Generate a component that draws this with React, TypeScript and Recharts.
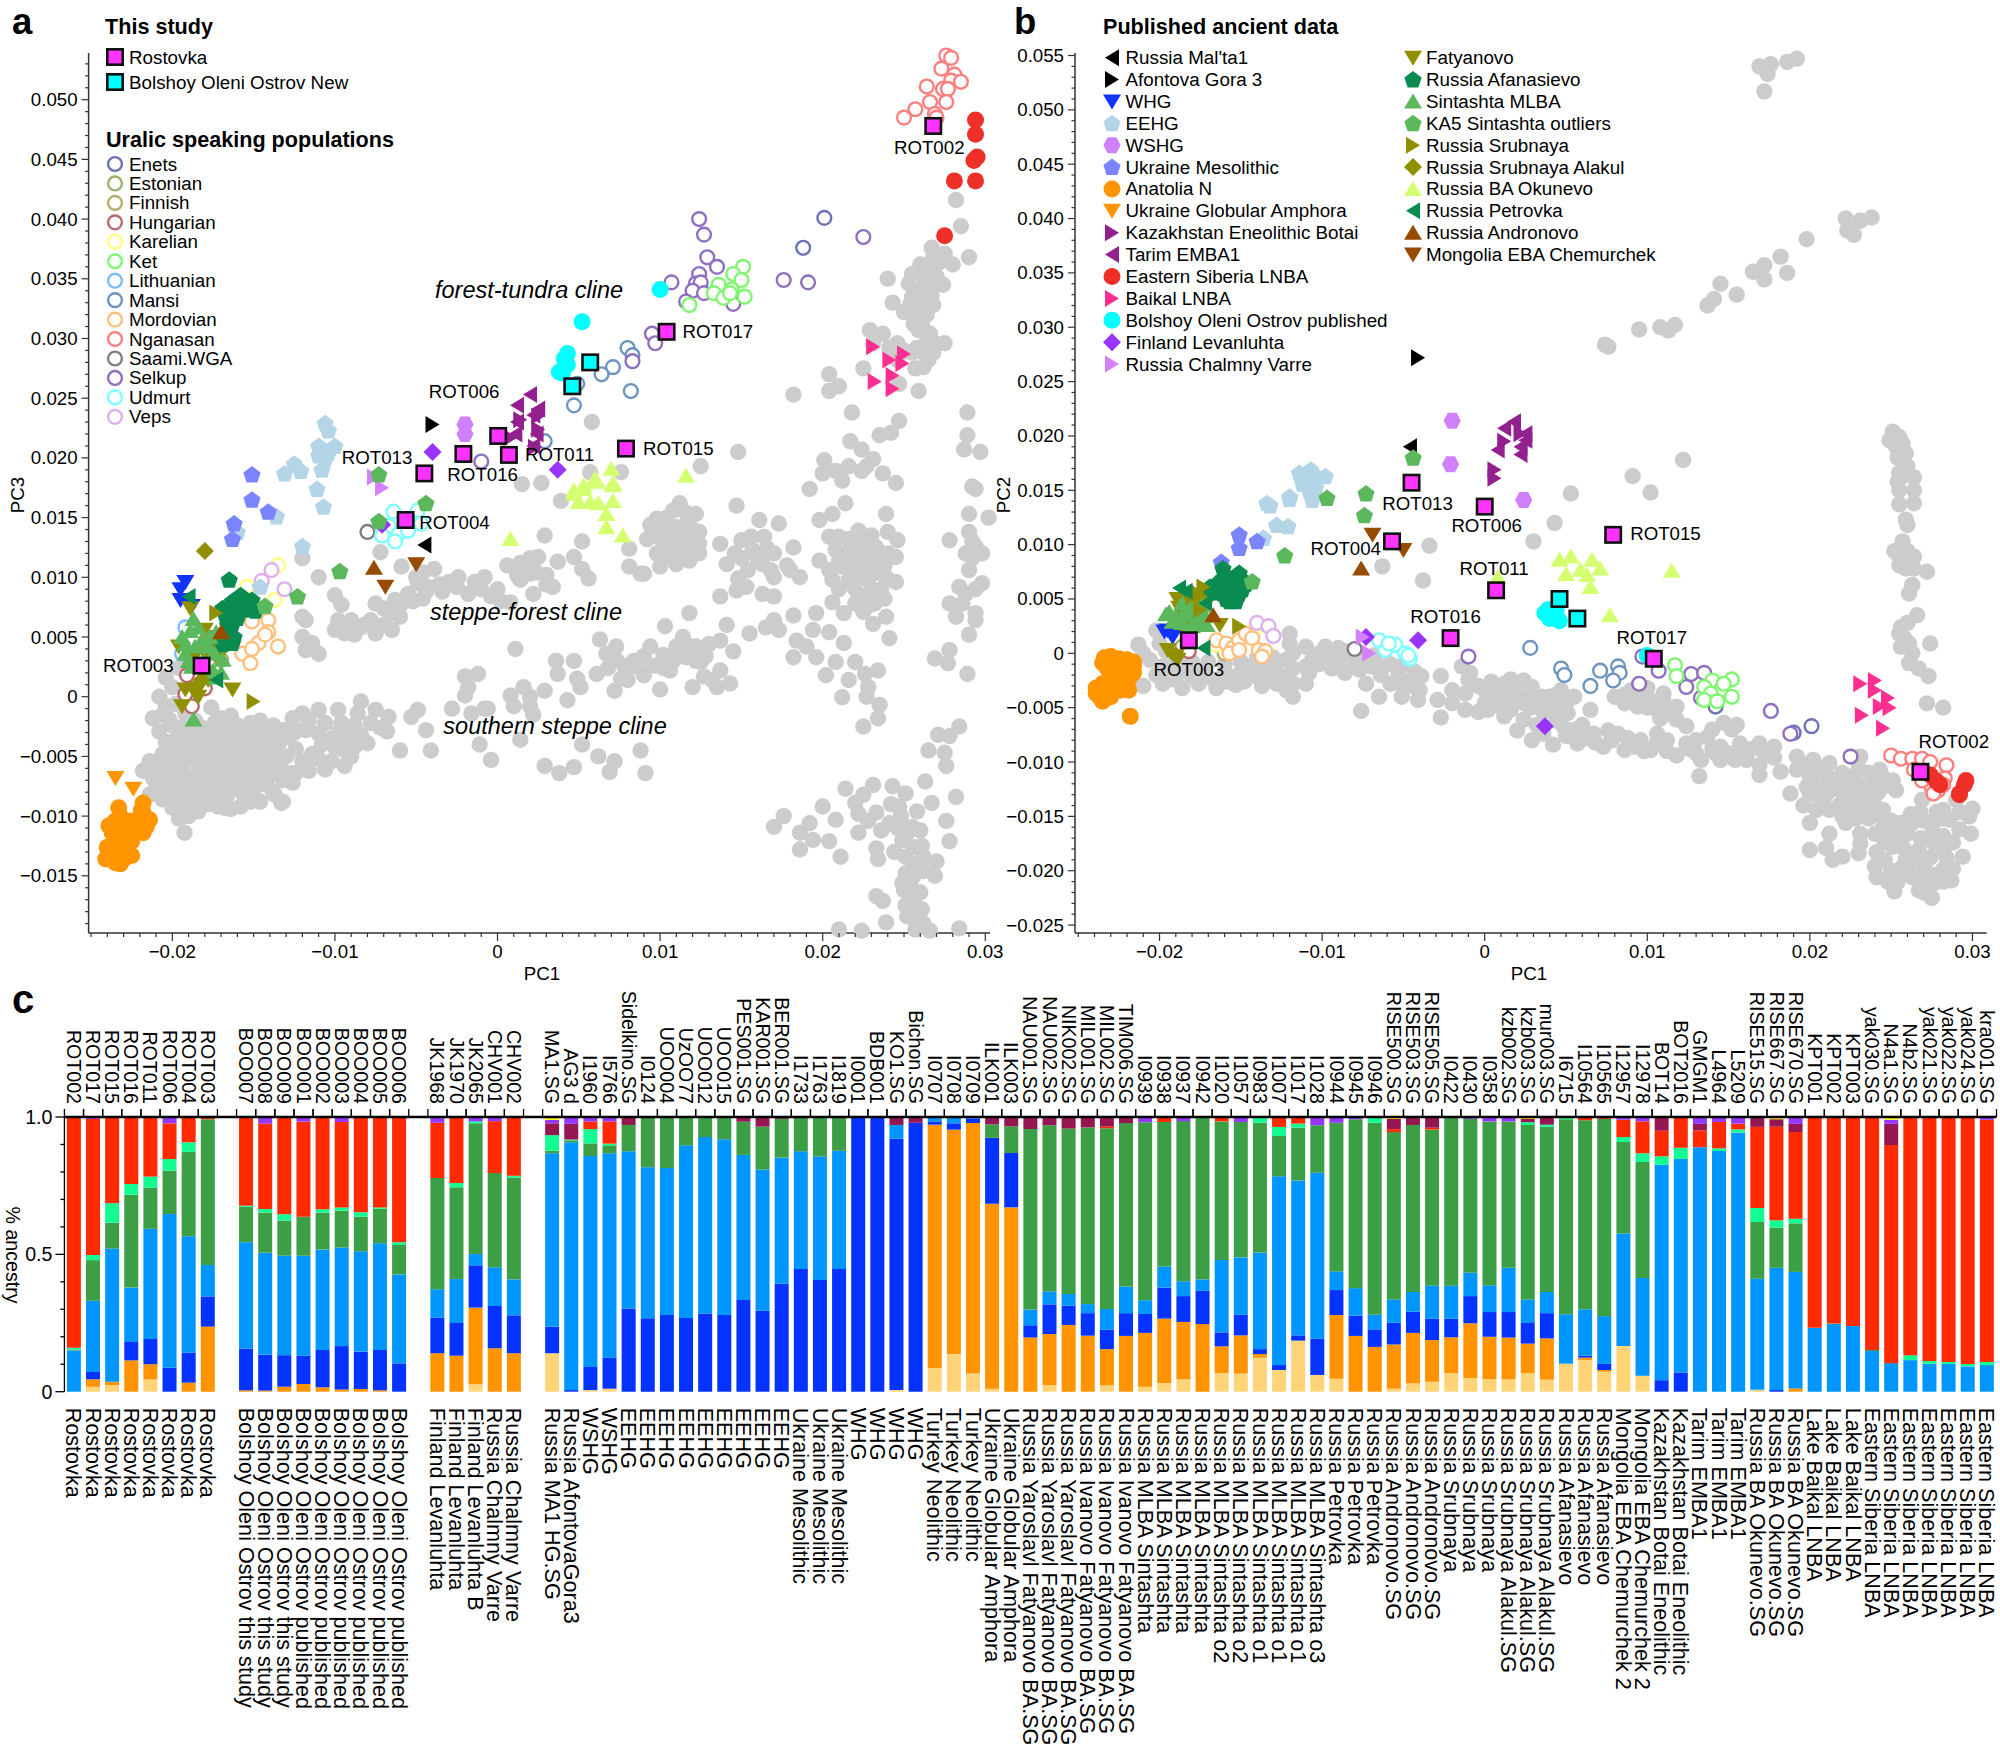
import { BarChart, Bar, ScatterChart, Scatter, XAxis, YAxis } from "recharts"

// scatter values are in thousandths of a PC unit: [PC1, PC3 or PC2]
type Pt = [number, number]
const FONT = "'Liberation Sans', Arial, sans-serif"

// ---- panel a: PC1 / PC3 ----
const grayA: Pt[] = [
  [-20.8,0],[-21.2,-1.8],[-20.6,-1.5],[-20,-2.4],[-20.8,-2.9],[-19.8,-0.6],[-19.2,-1.4],[-18.6,-2],[-17.6,-0.9],[-17,-1.8],[-16.4,-1.6],[-16,-2.4],[-15.2,-2.2],[-14.6,-2],[-13.8,-2.4],[-13.2,-2.8],[-14,-3],[-15,-3],[-16.2,-3.2],[-17,-3],[-17.8,-3],[-18.8,-3.2],[-19.8,-3.6],[-20.4,-3.8],[-19.6,-4.6],[-18.8,-4.6],[-18,-4.2],[-17,-4.2],[-16,-4.4],[-15,-4],[-14.2,-4.2],[-13.4,-3.8],[-12.8,-3.4],[-12.4,-4.4],[-13,-5],[-14,-5.2],[-15,-5.2],[-15.8,-5.4],[-16.8,-5.2],[-17.8,-5.4],[-18.4,-5.6],[-19.4,-5.8],[-20,-5.4],[-21.4,-5.4],[-21.8,-6.2],[-21,-6.4],[-20,-6.6],[-19,-6.8],[-18,-6.4],[-17,-6.4],[-16,-6.2],[-15,-6.2],[-14.4,-6],[-13.4,-6.2],[-12.4,-6.4],[-11.6,-6.2],[-14.8,-7],[-16,-7.2],[-17,-7.4],[-18,-7.6],[-19,-7.8],[-20,-7.8],[-21,-7.4],[-21.4,-8.2],[-20.6,-8.6],[-19.6,-8.8],[-18.6,-8.6],[-17.6,-8.4],[-16.6,-8.2],[-15.6,-8.2],[-15,-7.8],[-13.8,-8],[-13.2,-8.8],[-14.6,-8.8],[-15.8,-9.2],[-16.4,-9.4],[-17.2,-9.2],[-18.4,-9.6],[-19,-10],[-19.6,-10.2],[-19.25,-11.4],
  [-20.4,1.6],[-20,0.8],[-19.2,0.4],[-19.6,2.4],
  [-12,-1.4],[-11,-1.1],[-9.8,-1.1],[-8.4,-0.4],[-7.5,-1.1],[-4.9,-1.1],[-6.7,-1.7],[-5.3,-1.7],[-2.8,-1],[-1.6,-1.4],[-0.8,-1],[-4.4,-2.8],[-6.8,-2.9],[-8,-3.9],[-9.2,-3.6],[-10.2,-3.5],[-9.4,-4.5],[-11,-3.1],[-11.8,-2.8],[-12.5,-3],[-4.1,-4.5],[-6,-4.5],[-9,-5],[-9.4,-5.8],[-10.6,-6.1],[-11.8,-6.1],[-12.7,-6.4],[-13.7,-8.2],[-13.3,-8.9],[-15.5,-8.8],[-16.8,-9.3],
  [1.6,0.8],[0.8,0.1],[2,0],[1,-0.8],[2.2,-1.5],[2,-0.8],[2.9,0.5],[4.3,-0.3],[-0.6,-1],[-1.1,-4],[1.4,-3.6],[-0.4,-5.3],[2.9,-5.8],[3.8,-6.4],[4.7,-5.9],[5.2,-4],[6.2,-5],[7.2,-5.4],[6.9,-6.3],[8.8,-4.5],[9.1,-6.4],
  [-2,1.7],[-1.2,1.9],[-1.8,0.8],[-2,0.1],
  [1.1,4],[3.6,3],[4.7,3],[3.7,1.9],[4.9,1.5],[6.1,1.9],[5.1,0.8],[7.2,0.5],[7.6,1.5],[10,0.6],[8.6,2.5],[9.6,2.6],[10.6,2.2],[12,0.8],[12.7,1.7],[13.5,0.8],[14.3,1.1],[13.7,2.2],[12.5,2.9],[11.6,3.3],[10.2,3.5],[9.4,4.2],[11.4,5],[12.2,4.2],[13.7,4.7],[14.1,6],[14.5,3.8],[15.5,5.3],[16.5,5.8],[17,6.4],[17.3,5.6],[18.2,6.8],[10.3,5.9],[11.8,7],[6.3,4.8],[7.3,4.2],[6.7,3.6],[7.3,3.1],
  [18.4,4.7],[19,4.2],[19.4,5.6],[18.2,3.3],[19.6,3.3],[20.8,2.9],[22,2.9],[20.2,1.8],[21.6,1.4],[22.6,1.9],[23.4,2.2],[22.8,0.8],[21.2,-0.05],[22.7,0],[23.5,-0.7],[23.4,-1.8],[22.5,-2.5],[21.3,4.5],[20.4,5.4],[24.1,4.9],[23.9,6.7],[23.1,6.1],[22.5,7.1],[21.3,7],[20.6,7.9],[19.6,7],
  [9.8,14.9],[11.2,16.2],[12.2,15.3],[9.4,13.4],[10.6,14.2],[11.6,14.5],[10.2,12.8],[12.4,12.8],[11.2,12.3],[11.8,13.5],[11,11.1],[10,10.9],[9.2,13.2],[10.8,13.4],[10.4,15],[11.6,12.1],[9,10.3],[8.1,10.9],[8.8,10.3],
  [14.7,16],[16.1,14.8],[17.3,14.5],[15,13.1],[13.7,12.8],[14.1,11.1],[15.7,12.3],[16.3,11.1],[18.2,12.5],[17,10],[18.6,10],[15.3,9.2],[14.7,8.9],[13.7,8.4],[16.3,8.6],[17,8.4],[18,10.6],
  [19.8,14.8],[20.6,15.3],[21.4,16.2],[23.9,15.3],[22.2,13.9],[24.6,13.1],[20.8,12.3],[22,12.5],[22.8,12.3],[21.2,10.9],[22.4,11.1],[23.5,11.4],[24.5,11.7],[20.4,10.6],[21.6,9.8],[22.8,9.8],[23.9,10],[24.5,9.6],[22.4,8.4],[23.2,7.8],[19.8,11.4],[22.4,10.6],[23,10.7],[23.3,12.5],
  [29.4,17.4],[29,15.3],[30.2,15],[27.8,13.1],[29.2,11.6],[29,10.6],[29.8,9.5],[28.8,8.6],[27.8,7.8],[28.2,6.7],[29.4,6.4],[29,5.2],[27.8,3.9],[26.9,3.2],[27.7,2.8],[28.9,1.9],[29.4,7],
  [-12,5],[-11,3.6],[-11.4,4.5],[-11.8,3.9],[-10,5.6],[-9.4,5.3],[-9,6.4],[-8.4,5.8],[-7.8,6.4],[-7.5,5.3],[-6.5,5.6],[-6,6.7],[-10,8.5],[-9.6,7.7],[-12,6.7],[-11.8,6.4],[-11,10],[-7.5,7.8],[-6.3,8.1],[-5.5,8.6],[-4.9,9.5],[-5.9,10.9],[-3.9,10.7],[-4.3,9.2],[-2.5,9.2],[-1.8,8.6],[-0.8,10],[-2.4,10],[-0.4,8.4],[0.8,7.9],[0.6,11],[1.6,10.9],[2.5,11.7],[2,10.3],[1.4,9.8],[2.2,8.6],[3.4,9.2],[2.9,13.5],[5.2,13],[3.7,11.3],[4.7,11.7],[5.6,9.9],[5.2,10.7],[3.9,16.4],[8.1,12.4],[-7.2,12.1],[-12,11.6],
  [28.2,41.6],[28.5,39.4],[26.7,37.6],[27.5,37.1],[29,36.8],[28,36.2],[26,36.2],[25.5,35.4],[24,35],[27,35.2],[27.4,34.5],[26.3,34.9],[25.3,34.6],[25.5,33.5],[24.3,33],[26.7,33.6],[26.1,32.8],[25,32.2],[26.1,31.4],[25.9,30.7],[22.9,30.7],[23.7,30.4],[23.1,29.6],[24.1,29.2],[27.5,29.6],[26.3,29.5],[25.5,28.8],[26.5,28.2],[25.7,27.5],[20.4,27],[22.5,27.5],[21,26],[20.4,25.6],[18.2,25.3],[24.7,26.2],[25.9,25.6],[21.8,23.8],[28.9,23.8],[24.7,23.1],[24.2,22.1],[28.9,21.9],[23.5,21.9],[21.7,21.4],[23.1,19.9],[22.4,20.7],[28.7,20.7],[29.7,20.5],[20.1,19.8],[21.6,19.3],[20.8,18.9],[22.7,19.3],[20,18.7],[23.7,18.7],[24.5,17.9],[19.2,17.4],[22.4,18.9],[21.2,18.1],[29.2,17.6],
  [5.8,23],[14.8,20.5],[12.5,19.3],[7.6,18.8],[2.7,17.9],[1.5,17.8],[5.7,18.8],
  [17,-10.9],[17.6,-10],[18.6,-11.4],[18.6,-12.8],[19.4,-12],[20,-9.2],[19.2,-10.6],[20.4,-12.1],[21.1,-13.4],[21.4,-7.7],[20.8,-10.3],[22,-8.9],[22.5,-8.2],[23.1,-7.4],[24.3,-7.5],[25.1,-8.1],[22.2,-11.4],[23.3,-9.7],[24.7,-9.2],[24.1,-10.6],[25.5,-10.9],[23.3,-12.7],[23.4,-13.6],[24.9,-12],[26.1,-12.5],[25.1,-13.4],[27,-13.8],[26.9,-15],[25.1,-14.8],[27.8,-12.1],[27.6,-10.4],[26.7,-8.9],[28.2,-8.4],[26.3,-7.1],[24.9,-15.6],[25.5,-16.4],[23.3,-16.7],[23.7,-17.1],[25.1,-17.5],[26.1,-17.8],[23.9,-18.9],[25.7,-18.7],[28.4,-19.4],[26.6,-19.6],[22.4,-19.6],[21,-19.5],[25.7,-19.5],
  [28.4,-2.5],[27.1,-3.2],[27.8,-3.3],[26.5,-4.5],[27.5,-4.7],[27.6,-5.8],
]
// estimated positions inside the solid grey clouds
const grayDenseA: Pt[] = [
  [-20.4,-0.8],[-20.2,-1.9],[-19.4,-2.6],[-18.2,-2.6],[-17.4,-2.2],[-16.6,-2.6],[-15.6,-2.8],[-14.6,-2.6],[-13.6,-3.4],[-14.6,-3.6],[-15.6,-3.7],[-16.6,-3.7],[-17.4,-3.6],[-18.4,-3.8],[-19.2,-4],[-20,-4.2],[-20.6,-4.8],[-19.8,-5],[-19,-5.2],[-18.2,-5],[-17.4,-4.8],[-16.4,-4.8],[-15.4,-4.6],[-14.6,-4.6],[-13.6,-4.6],[-13.4,-5.6],[-14.4,-5.6],[-15.4,-5.8],[-16.4,-5.8],[-17.4,-5.8],[-18.4,-6.2],[-19.6,-6.2],[-20.6,-5.8],[-21.2,-6.8],[-20.4,-7.2],[-19.4,-7.2],[-18.4,-7],[-17.4,-6.9],[-16.4,-6.8],[-15.4,-6.8],[-14,-6.6],[-13.2,-7],[-12.6,-7.2],[-14.2,-7.4],[-15.4,-7.6],[-16.4,-7.8],[-17.4,-7.9],[-18.4,-8.1],[-19.4,-8.2],[-20.2,-8.2],[-20,-9.3],[-18.8,-9.1],[-17.8,-9],[-16.8,-8.8],[-15.2,-8.8],[-19.6,-9.6],
  [-12.6,-1.8],[-11.6,-2],[-10.6,-2.2],[-9.6,-2.2],[-8.8,-2.4],[-7.8,-2.2],[-8.6,-1.4],[-7.2,-2.6],[-9.8,-3],[-9,-2.9],[-8.4,-3.2],[-8.8,-4.2],[-10,-4.2],[-10.8,-4],[-11.4,-4.8],[-12,-5.4],[-11,-5.2],[-10.2,-5.4],[-12.6,-2.4],
  [-9.8,6.4],[-9.4,5.9],[-8.8,5.2],[-8.2,6],[-7,6],[-7,7.4],[-6.6,7],[-6,7.6],[-5.2,8],[-4.6,8.2],[-4.4,8.8],[-3.4,8.8],[-3,9.6],[-5,10],[-4.6,10.4],[-3.6,9.4],[-1,9],[-1.4,9.6],[0.2,8],[0,9],[1.2,10.2],[1.4,11.2],[2,11.6],[2.4,10.4],[3,10.2],[3,9.4],
  [8,1.4],[8.4,3],[9,1.8],[9,3.4],[10.2,2.4],[10.8,3],[11,4.2],[11.6,4.4],[12.2,3],[12.8,3.4],[13,4.4],[13.2,1.4],[6.8,2.4],[7.8,2.6],
  [10.2,14],[10.6,13],[11,14.2],[11,13.2],[11.4,13],[11.6,13.9],[10.6,11.8],[11,12],[10.2,11.6],[9.8,12],[9.8,13.6],[12,14],[12.4,13.8],[12.4,12],[11.8,11.4],[11.6,15.4],[10.8,15.6],[9.4,14.4],[12,12.6],[10.4,12.4],
  [21,11.4],[21.4,12],[21.6,11],[22,11.6],[21.8,10.4],[22.2,10],[22.8,10.4],[23,11.2],[23.4,10.4],[23.8,11],[24,12],[22.6,13],[23,13.5],[21.6,13.2],[21,13.4],[20.4,13.4],[20.6,9.8],[21,9],[22,9],[23,9],[23.6,9],[22.8,7.6],[22,7.8],[23.8,8.2],[24,13.8],
  [15.6,13.4],[16.4,13.4],[16.6,12.4],[17,12],[16,11.6],[15,11.6],[14.6,12],[15.4,10.6],[16.8,10.6],[14.8,9.9],[17.8,11],
  [29,13.8],[29.2,13],[29.4,12.6],[28.4,9.2],[28.6,7.8],[28.8,12],[29.4,9],[29.8,12],
  [26.6,36.2],[26.8,36.8],[26.4,35.4],[26.8,34.8],[26.2,34.2],[25.8,33.8],[26.8,32.8],[25.4,32.9],[25.6,32.2],[26.4,32],[26.2,30.7],[25.6,31.2],[26.6,30.4],[26.9,29.6],[25.8,29.2],[26.8,28.8],[26.2,27.6],[26.2,28.8],[25,29],[24.6,28.2],[24.6,29.6],[27.2,36.4],
  [24.8,-10],[25.8,-9.6],[24.2,-9],[25.2,-11.4],[26,-11.2],[26.2,-13.4],[25.6,-14],[25.6,-15],[26.2,-14.6],[25,-16.2],[25.4,-15.6],[26,-16.4],[25.6,-17.2],[25.2,-18.4],[25.6,-18],[26.2,-19],[24.6,-11],[23.6,-11.2],[22.8,-10.4],[22.2,-9.8],[25.6,-12.6],[24.4,-13],
]
const rostovkaA: Pt[] = [[26.8,47.8],[10.4,30.56],[0.04,21.84],[-2.1,20.33],[0.7,20.25],[7.9,20.78],[-4.5,18.7],[-5.65,14.8],[-18.2,2.6]]
const bolshoyNewA: Pt[] = [[5.7,28],[4.6,26]]
const enetsA: Pt[] = [[20.1,40.1],[18.8,37.6]]
const estonianA: Pt[] = [[-17.6,4.6],[-18.4,3.4]]
const finnishA: Pt[] = [[-17.8,3.8],[-17,3.1]]
const hungarianA: Pt[] = [[-19.1,1.8],[-18,0.7],[-19,0],[-18.8,-0.8],[-19.2,0.2]]
const karelianA: Pt[] = [[-15.4,9.2],[-13.5,11],[-13.7,8.1]]
const ketA: Pt[] = [[15.1,36],[14.5,35.4],[15,34.9],[13.6,34.5],[14.4,34.1],[13.3,33.8],[13.9,33.4],[15.2,33.5],[11.8,32.8],[14.3,33.8]]
const lithuanianA: Pt[] = [[-19.2,5.8],[-19.4,3.6]]
const mansiA: Pt[] = [[8,29.2],[8.3,28.6],[7.1,27.6],[6.4,27],[8.2,25.6],[4.7,24.4],[4.9,26.2],[2.9,21.4]]
const mordovianA: Pt[] = [[-14.1,6.4],[-14.1,5.4],[-15.1,6.3],[-14.7,4.5],[-13.5,4.2],[-15.7,3.6],[-15.1,4],[-15.2,2.8],[-14.3,5.2]]
const nganasanA: Pt[] = [[27.6,53.7],[27.9,53.5],[27.3,52.6],[28.1,52.1],[27.9,51.6],[28.5,51.5],[26.4,51.1],[27.4,50.9],[27.7,50.9],[26.6,49.8],[27.6,49.8],[25.7,49.2],[25,48.5],[26.9,48.8],[27,48.5]]
const saamiA: Pt[] = [[-8,13.8]]
const selkupA: Pt[] = [[12.4,40],[12.7,38.7],[17.6,34.9],[19.1,34.7],[22.5,38.5],[12.9,36.8],[12.4,35.4],[13.5,36],[10.7,34.7],[12.2,34.6],[12.5,34.7],[12,34],[12.7,33.8],[11.6,33.1],[14.5,32.9],[9.5,30.4],[9.7,29.6],[8.3,28.1],[-1,19.7]]
const udmurtA: Pt[] = [[-6.4,15.5],[-6.7,14.3],[-6.1,13.6],[-6.3,13],[-5.5,13.9],[-4.9,15.6],[-4.7,14.5],[-7.1,13.5]]
const vepsA: Pt[] = [[-13.9,10.6],[-13.1,9],[-14.5,9.7]]
const maltaA: Pt[] = [[-4.5,12.7]]
const afontovaA: Pt[] = [[-4,22.8]]
const whgA: Pt[] = [[-19.2,9.6],[-19.5,9],[-19.5,8.1],[-18.8,7.6]]
const eehgA: Pt[] = [[-10.6,22.9],[-10.4,22.3],[-11,21],[-10,21],[-10.6,19.9],[-10.8,19],[-12.5,19.5],[-13.1,18.7],[-12.1,18.9],[-11.1,17.4],[-10.7,15.9],[-13.6,15.1],[-16,13.8],[-12,12.6],[-14.6,9.2],[-10.4,20.4],[-11,20.2]]
const wshgA: Pt[] = [[-2,22.8],[-2,22]]
const ukraineMesoA: Pt[] = [[-15.1,18.6],[-15.1,16.5],[-14.1,15.5],[-16.2,14.5],[-16.3,13.2]]
const anatoliaA: Pt[] = [[-21.8,-8.9],[-23.3,-9.3],[-21.8,-9.7],[-23.5,-10.4],[-22.5,-10.4],[-21.4,-10.3],[-23.7,-11.4],[-21.8,-11.4],[-22.5,-12.1],[-23.7,-12.5],[-23.1,-13],[-24.1,-13.6],[-23.5,-13.9],[-22.9,-13.5],[-23.9,-13.1],[-21.6,-10.9],[-23.1,-11.4],[-23.2,-10],[-22.6,-11],[-22.9,-12],[-23.3,-12.2],[-22.8,-12.8],[-23.2,-14],[-23.8,-13.6],[-22.5,-13.3],[-24,-12.6],[-23.9,-10.8],[-22,-11],[-21.9,-9.5],[-22.3,-11.5],[-22.9,-11]]
const globularA: Pt[] = [[-23.5,-6.8],[-22.4,-7.7]]
const botaiA: Pt[] = [[2.5,23.5],[1.4,23.2],[2.5,22.4],[0.8,21.7],[2.3,20.9]]
const tarimA: Pt[] = [[2,25.3],[1.2,24.4],[2.5,24.1],[2.2,23.6],[1.2,23],[1.1,22],[2.4,22],[2.2,21]]
const easternSiberiaA: Pt[] = [[29.4,48.3],[29.4,47.1],[29.5,45.2],[29.3,44.9],[28.1,43.2],[29.4,43.2],[27.5,38.6]]
const baikalA: Pt[] = [[23.1,29.3],[25,28.7],[24.1,28.2],[24.9,27.9],[24.3,26.9],[23.2,26.4],[24.3,25.8]]
const bolshoyPubA: Pt[] = [[10,34.1],[5.2,31.4],[4.3,28.75],[4.1,28.3],[3.8,27.2],[4.3,27.8],[4,27.1]]
const finlandA: Pt[] = [[-4,20.5],[3.7,19],[-7.1,14.4]]
const chalmnyA: Pt[] = [[-7.6,18.4],[-7.1,17.5]]
const fatyanovoA: Pt[] = [[-18.9,7.4],[-19.2,0.6],[-18.4,0.7],[-18.4,0],[-19.4,-0.8],[-16.3,0.6],[-17.3,5],[-18,5.6],[-19.6,4.2],[-17.6,4],[-18,3.6],[-18.7,3.2],[-18.6,0.3],[-17.8,1.4],[-17.2,3.2]]
const afanasievoA: Pt[] = [[-16.5,9.8],[-15.8,8.5],[-15.1,8.1],[-16.5,7.2],[-15.9,7],[-16.3,6.1],[-16.8,5.3],[-16.3,4.5],[-16.9,7.4],[-15.7,7.7],[-14.9,7.2],[-16.3,8],[-15.6,8.2],[-15.2,7.6],[-16,7.5],[-16.3,6.6],[-16,6.6],[-16.6,6],[-16.5,5.5],[-16.2,5],[-16.6,4.8],[-16.4,6.9],[-15.4,7.3],[-16.9,4.4],[-16.7,6.7]]
const sintashtaA: Pt[] = [[-18.7,-1.9],[-18.7,6.5],[-19.4,5],[-18.2,4.7],[-17.3,5.4],[-19.2,3.6],[-17.8,4.2],[-16.9,3.1],[-17.5,2.2],[-18.8,2.5],[-18.4,5.8],[-18.1,3],[-18.6,4.2],[-17.4,3.6],[-17,2],[-19,3],[-17.6,1.6],[-19.2,4.4],[-17.7,5],[-18.9,5.5]]
const ka5A: Pt[] = [[-7.3,18.6],[-4.4,16.2],[-7.3,14.7],[-9.7,10.5],[-12.3,8.4],[-14.3,7.6]]
const srubnayaA: Pt[] = [[-17.3,7],[-15,-0.4]]
const alakulA: Pt[] = [[-18,12.2],[-18.2,1.4]]
const okunevoA: Pt[] = [[11.6,18.5],[7,19.1],[6,18.3],[7.1,17.9],[5.3,17.7],[4.7,17.3],[6.1,18],[7.1,17.7],[4.7,17],[5.3,17.4],[5,16.3],[5.7,16.3],[6.2,16.2],[7.1,16.4],[6.7,15.3],[6.7,14.2],[7.7,13.5],[0.8,13.2]]
const petrovkaA: Pt[] = [[-19,8.4],[-17.3,1.4]]
const andronovoA: Pt[] = [[-7.6,10.8],[-17,5.4]]
const chemurchekA: Pt[] = [[-5,11.1],[-6.9,9.2]]

// ---- panel b: PC1 / PC2 ----
const grayB: Pt[] = [
  [19.2,54.7],[18.6,54.4],[17.6,54.2],[16.9,54],[17.4,53.3],[17.2,51.7],
  [23.8,40.1],[23.1,39.8],[22.2,40],[22.3,38.9],[22.7,38.5],[19.8,38.1],[18.2,36.5],[17.2,35.7],[16.5,35.1],[18.6,35],[17.2,34.4],[14.5,34],[15.5,33],[14.1,32.6],[13.7,32],[9.5,29.8],[11.7,30.2],[10.8,30],[11.3,29.7],[7.6,28.2],[7.4,28.4],
  [25.1,20.4],[24.9,19.6],[25.7,19.3],[25.5,19.9],[25.9,18.4],[25.8,17.5],[25.5,16.6],[26.4,16.2],[25.7,16.3],[12.2,17.8],[9.1,16.3],[10.2,14.8],[5.3,14.7],[25.5,15],[26.4,15],
  [25.5,13.7],[26.4,13.8],[25.9,12.3],[26,11.8],[4.3,12],[3,10.3],[-3.4,9.9],[25.7,10.3],[25.5,8.9],[26.4,8.9],[25.5,8.1],[26.4,7.8],[27.2,7.5],[-6.3,8],[-3.8,6.7],[26.3,6.3],[26.1,5.5],[26.6,3.5],[26,2.8],[25.5,1.8],[26.1,0.9],[27.4,0.9],[26.3,0],[26.1,-0.9],[26.7,-1.4],[27.3,-2.1],[27.2,-4.6],[28.2,-5],
  [-21.3,0.8],[-20.2,2.1],[-20,0.9],[-21,0],[-21,-3],[-19.8,-1.2],[-19.8,-2.8],[-18.8,-1.8],[-18,-2.1],[-18.6,-3.2],[-17.3,-1.5],[-16.5,-2.5],[-16.5,-3.2],[-15.3,-2.1],[-14.5,-1.2],[-14.1,-2.1],[-13.7,-3],[-15.3,-2.9],[-12.9,-1.2],[-12.5,-2.1],[-11.8,-2.8],[-11.8,-4],[-12,1.8],[-12,0.9],[-11.8,0],[-11,0.6],[-10.6,-0.6],[-10.8,-1.8],[-11,-2.8],[-9.8,0.6],[-9,0.5],[-9.8,-0.3],[-9,-0.9],[-8.2,-0.3],[-8.6,-1.8],[-7.5,-0.6],[-7.7,-1.5],[-7.3,-2.8],[-6.3,-1.2],[-6.5,-4],[-5.3,-2.1],[-5.1,-4],[-7.6,-5.3],[-4.3,-1.7],[-3.9,-2.1],[-4.1,-4.3],[-2.7,-2.1],[-2.7,-5.9],[-1.4,-1.2],[-0.9,-1.8],[-2,-3.4],[-2.9,-4.3],[-2,-4.6],[-1.2,-5.2],[-0.4,-5.4],[-1.2,-3.7],[0,-3.4],[1.2,-2.8],[2.4,-2.5],[2.9,-3.1],[1.6,-4],[1,-4.9],[1.2,-5.8],[2.4,-4.6],[2.4,-6.1],[3.5,-4],[4.7,-3.4],[4.3,-4.9],[5.5,-4],[6.5,-5.2],[5.1,-5.5],[2.9,-8],[2,-7.1],[4.2,-8.4],[4.9,-6.9],[5.7,-8.3],[6.7,-7.4],[7.6,-7.1],[7.3,-8.6],[8.6,-8.9],[9.6,-8],[10.6,-7.4],[10.2,-8.9],[8,-4],[9,-3.4],[9.8,-4],[11,-3.7],[11.8,-4.9],[10.6,-5.2],[9.4,-4.9],[11.8,-6.1],[12.4,-6.7],[14.7,-6.4],[15.5,-6.6],[12.4,-8.3],[11.8,-9.4],[13.2,-11.3],[13.7,-7.7],[14.5,-8.6],[15.7,-8.3],[16.9,-8.3],[17.6,-8.9],[13.3,-9.8],[14.5,-9.8],[16.1,-9.8],[16.9,-10.3],[18.2,-10.9],[16.9,-11.2],[17.8,-8.6],
  [19.2,-9.5],[20.2,-9.8],[21.2,-10.1],[19.2,-10.7],[20.4,-11],[22,-11],[23.1,-9.5],[24.3,-10.7],[18.8,-12.9],[19.8,-12.3],[21.2,-12],[22.7,-11.7],[23.9,-12],[25.1,-11.7],[19.6,-14],[20.8,-13.5],[22.4,-13.2],[23.7,-13.2],[25.3,-12.6],[21.2,-14.4],[23.1,-14.4],[24.5,-14.4],[26.9,-13.5],[26.8,-14.6],[27.8,-14.6],[29,-13.5],[30,-14.3],[20,-15.6],[22.2,-15.6],[24.5,-16],[26.3,-15.6],[28.6,-15.3],[29.8,-15],[29.9,-16.6],[21.2,-16.6],[23.1,-16.6],[25.5,-16.9],[27.5,-16.6],[20,-18.1],[21,-17.9],[22,-18.7],[24.1,-18.3],[25.1,-17.8],[23.1,-17.5],[26.7,-18.1],[28.2,-18.1],[29.4,-18.7],[21.4,-19],[24.1,-20.6],[25.2,-21.9],[26.3,-20.6],[27.5,-22.5],[28.7,-20.9],[25.9,-19],[27.1,-19.9],[27.6,-21.2],[26.7,-21.8],[28.2,-19.9],[23,-18.4],
]
const grayDenseB: Pt[] = [
  [-20.6,-0.6],[-20.2,-2],[-19.4,-1.8],[-19.2,-2.4],[-18.2,-1.2],[-17.6,-2.8],[-17,-2.2],[-16,-1.8],[-15.8,-2.6],[-14.8,-1.6],[-14.8,-2.6],[-14,-1],[-13.6,-1.6],[-13.2,-2.2],[-12.8,-2.8],[-12.2,-3.4],[-19.6,0.2],[-19,-0.6],[-18,-0.8],[-17,-0.8],[-16,-1],[-15,-0.8],[-14,-0.4],[-13,-0.4],[-12.2,-0.6],[-11.8,-1.4],[-11,-1.2],[-10.2,0],[-10.2,-1],[-9.4,-1.4],[-9.4,0.1],[-8.6,0.2],[-8,-1],[-7.8,0.1],[-7,-1.2],[-6.8,-0.2],[-6.4,-2],[-5.8,-1],[-5.8,-2.8],[-5,-1],[-4.8,-2.6],[-4.4,-3],[-4,-3.4],[-5,-3.2],
  [-1,-2.4],[-0.4,-3],[0.4,-2.6],[0.8,-3.6],[1.6,-2.4],[1.8,-3.4],[2.2,-4],[0.6,-4.4],[0,-4.6],[0.2,-5.2],[1.6,-5.2],[2.8,-5],[3,-4.4],[3.6,-5.4],[4,-4],[4.4,-3.8],[5,-4.6],[3.2,-6.6],[3.6,-7.4],[4.4,-6.2],[5,-7.6],[5.6,-7],[6,-6.6],[6.2,-7.8],[6.8,-8.2],[7.8,-8],[8.2,-7.4],[8.8,-7.8],[9.2,-8.6],[9.8,-9],[10.6,-8.2],[11.2,-8],[11.2,-9],[8.6,-3.8],[8.6,-4.6],[9.2,-4.2],[10,-3.2],[10.4,-4.4],[11,-4.4],[11.4,-5.6],[10.8,-6],[11,-5.4],[10,-5],[12.6,-8.8],[13,-9.2],[13,-8],[14,-8.8],[14.2,-9.2],[15,-9.2],[15.6,-9],[16.4,-8.8],[15.4,-9.8],[17.2,-9.2],[17.8,-9.6],[15.2,-7],[14,-7],
  [19.6,-10.2],[20,-11.4],[20.8,-10.6],[21,-11.2],[21.6,-11.6],[22.4,-11.4],[23,-10.6],[23,-12.2],[23.6,-11],[22,-12.4],[24.4,-11.2],[24.6,-12.2],[20,-13],[20.4,-12.4],[21,-13],[21.8,-12.6],[22.6,-12.6],[23.2,-13],[24.2,-12.8],[20.4,-14.4],[21.8,-14],[22.4,-14.4],[23,-13.8],[24,-14],[22,-15],[22.8,-15.2],[23.6,-15.2],[24.4,-15],[25,-15.4],[25.6,-15.6],[27,-15.4],[27.6,-15.6],[28.2,-15.2],[26.2,-14.8],[28.2,-14.4],[29.2,-14.6],[24,-16.6],[25,-16.4],[26,-16.6],[26.8,-17],[27.6,-17.4],[28.2,-16.8],[28.8,-17.4],[29.2,-16.2],[24.6,-17.4],[25.8,-18],[26.6,-18.8],[27.4,-18.8],[28.4,-18.8],[28.8,-19.8],[24.6,-19],[25,-20],[25.6,-19.8],[26.2,-19.4],[26.8,-20.8],[25.4,-21],[27.8,-20.4],[28.2,-21],[27,-22],[24.8,-21],[24,-19.6],
  [25.3,19],[25.6,18.8],[25.4,18],[26,17.2],[25.4,15.8],[25.8,8.6],[26,9.4],[25.2,9.4],[25.9,7.8],[25.6,2.4],[25.8,1.4],[25.6,0.6],
]
const rostovkaB: Pt[] = [[26.8,-10.9],[10.4,-0.5],[0,13.5],[-2.1,1.4],[0.7,5.8],[7.9,10.9],[-4.5,15.7],[-5.7,10.3],[-18.2,1.2]]
const bolshoyNewB: Pt[] = [[4.6,5],[5.7,3.2]]
const enetsB: Pt[] = [[20.1,-6.7],[19,-7.3],[14.2,-4.9]]
const estonianB: Pt[] = [[-18.6,0.6]]
const finnishB: Pt[] = [[-16,0]]
const hungarianB: Pt[] = [[-18.2,0.2]]
const karelianB: Pt[] = [[-16.5,0.8],[-14.1,2.3]]
const ketB: Pt[] = [[11.7,-1.1],[11.8,-2.1],[15.2,-2.4],[14,-2.5],[13.5,-3.1],[14.5,-3.4],[13.9,-3.7],[15.2,-4],[13.5,-4.3],[14.3,-4.4],[14.7,-2.8]]
const mansiB: Pt[] = [[2.8,0.5],[4.7,-1.4],[4.9,-2],[6.5,-3],[7.1,-1.6],[8.2,-1.2],[8.3,-1.8],[7.9,-2.5]]
const mordovianB: Pt[] = [[-16.5,1.2],[-15.9,0.9],[-15.5,0.5],[-15.1,1.2],[-14.7,1.8],[-14.3,1.4],[-15.7,0],[-13.9,0.3],[-13.5,0.2],[-13.7,-0.3],[-15.1,0.3]]
const nganasanB: Pt[] = [[25,-9.4],[25.6,-9.7],[26.3,-9.7],[26.9,-9.7],[27.4,-10],[28.4,-10.3],[26.4,-10.7],[27.1,-11],[27.6,-11.7],[28.3,-11.5],[27.5,-12.4],[27.9,-12.6],[27.6,-12.9],[28.2,-12.1],[26.9,-11.7]]
const saamiB: Pt[] = [[-8,0.4]]
const selkupB: Pt[] = [[-1,-0.3],[9.5,-2.8],[9.7,-0.3],[10.7,-1.6],[12.7,-1.9],[13.5,-1.8],[12.4,-3.1],[13.3,-4.1],[17.6,-5.3],[18.8,-7.4],[22.5,-9.5]]
const udmurtB: Pt[] = [[-6.5,1.2],[-6.1,0.3],[-5.5,0.8],[-4.9,0],[-4.6,-0.5],[-5.9,0.9],[-4.7,-0.2]]
const vepsB: Pt[] = [[-14,2.8],[-13.3,2.5],[-13,1.6]]
const maltaB: Pt[] = [[-4.6,19]]
const afontovaB: Pt[] = [[-4.1,27.2]]
const whgB: Pt[] = [[-19.5,2.1],[-19.2,1.8],[-19.7,2],[-19.2,1.5]]
const eehgB: Pt[] = [[-10.7,16.9],[-9.8,16.3],[-11.4,16.6],[-10.6,15.7],[-12,14.4],[-13.4,13.8],[-13.2,13.6],[-12,14.2],[-10.6,14.1],[-12.8,11.8],[-12.1,11.7],[-13.6,10.6],[-10.6,16.6],[-10.8,15],[-10.4,15.2],[-11.2,15.6]]
const wshgB: Pt[] = [[-2,21.4],[-2.1,17.4],[2.4,14.1]]
const ukraineMesoB: Pt[] = [[-15.1,10.9],[-15.1,9.7],[-14,10.3],[-16.2,8.4]]
const anatoliaB: Pt[] = [[-23.5,-0.9],[-22.9,-0.8],[-22.4,-0.8],[-21.6,-1.2],[-22.9,-1.8],[-22.2,-2],[-21.6,-1.8],[-23.9,-3.2],[-23.3,-2.9],[-22.5,-3.1],[-21.9,-3.4],[-23.7,-4],[-21.8,-5.8],[-23.1,-2.5],[-23.9,-3.7],[-23.4,-0.4],[-23,-0.3],[-22.5,-0.5],[-22,-0.6],[-21.6,-0.8],[-23.2,-1.4],[-22.4,-1.4],[-21.8,-1.4],[-23,-2.2],[-22.4,-2.5],[-21.9,-2.4],[-23.5,-2.8],[-23.6,-3.4],[-23,-3.4],[-22.4,-3.4],[-23.3,-4],[-23,-4],[-23.5,-4.4],[-22.8,-3.1]]
const botaiB: Pt[] = [[0.6,16.9],[0.6,16.1],[2.2,20.2],[1.2,19.5]]
const tarimB: Pt[] = [[1.8,21.3],[1.2,20.7],[2.5,20.2],[0.8,18.7],[2.2,19],[2.5,19.6],[2.2,18.3]]
const easternSiberiaB: Pt[] = [[29.6,-11.7],[29.5,-12.1],[29.2,-12.9],[27.8,-11.8],[28,-12.1],[27.4,-11.2],[29.2,-13]]
const baikalB: Pt[] = [[23.1,-2.8],[24,-2.5],[24,-3.4],[24.8,-4.1],[24.3,-4.9],[24.9,-5],[23.2,-5.7],[24.5,-6.9]]
const bolshoyPubB: Pt[] = [[3.7,3.7],[4,3.2],[4.3,3.5],[4.4,4],[4.6,3],[3.9,4],[10,-0.2]]
const finlandB: Pt[] = [[-7.3,1.5],[-4.1,1.2],[3.7,-6.7]]
const chalmnyB: Pt[] = [[-7.5,1.5],[-7.1,0]]
const fatyanovoB: Pt[] = [[-18.9,5],[-17.3,5.1],[-16.3,2.6],[-19.5,0.3],[-19,-0.3],[-18,2.8],[-18.5,4.8],[-18.8,4.2],[-18.2,4.4],[-17.5,4.4],[-17,4.8],[-17.6,5.4],[-18.4,3.3],[-17.8,3.5],[-18.6,2.5],[-17.4,3],[-18.9,-0.6]]
const afanasievoB: Pt[] = [[-16.1,7.8],[-15.1,7.4],[-16.5,6.4],[-15.5,6.4],[-16.1,5.5],[-15.1,5.5],[-16.9,6.1],[-14.7,6.4],[-15.7,4.8],[-16.1,6.9],[-15.8,7],[-15.4,7],[-16.5,5.6],[-15.9,5],[-15.3,4.8],[-14.9,5.9],[-16.4,6],[-16,6],[-15.5,5.4],[-15,6.9],[-16.7,5.8]]
const sintashtaB: Pt[] = [[-19.4,3.8],[-18.6,4.6],[-17.6,3.4],[-18.6,2.8],[-17.1,2.6],[-17.6,4],[-18,2.5],[-19,3.4],[-18.2,3.6],[-18.6,3.5],[-17.6,2.6],[-19.6,3.6],[-18,4.4],[-17.4,4.4],[-19.2,2.9],[-17.2,3.4]]
const ka5B: Pt[] = [[-9.7,14.3],[-7.3,14.7],[-7.4,12.7],[-12.3,9],[-14.3,6.6],[-4.4,18]]
const srubnayaB: Pt[] = [[-15.1,2.5],[-17.3,6.1],[-17.5,4],[-18,5.2]]
const alakulB: Pt[] = [[-19,-0.2],[-18,5.5]]
const okunevoB: Pt[] = [[11.5,7.6],[6.6,8.6],[5.3,8.9],[4.6,8.6],[7.1,7.8],[5.9,7.7],[5,7.3],[6.3,7.2],[6.5,6.1],[7.7,3.5],[0.8,7]]
const petrovkaB: Pt[] = [[-18.4,5.7],[-17.3,0.5],[-18.8,6],[-17.2,4.6]]
const andronovoB: Pt[] = [[-7.6,7.8],[-16.7,3.5]]
const chemurchekB: Pt[] = [[-6.9,10.9],[-5,9.5]]

const rostovkaIds = ["ROT002","ROT017","ROT006","ROT016","ROT011","ROT015","ROT013","ROT004","ROT003"]

// ---- panel c: ancestry, one row per sample ----
// order: pale, orange, blue, sky, green, mint, red, maroon, purple, yellow
const rostovkaSamples = ["ROT002","ROT017","ROT015","ROT016","ROT011","ROT006","ROT004","ROT003"]
const rostovkaRows = [
  [0,0,0,.15,.003,.007,.84],
  [.018,.027,.027,.259,.148,.019,.495,0,.007],
  [.024,.012,0,.485,.094,.071,.314],
  [0,.114,.067,.198,.338,.039,.244],
  [.045,.055,.092,.401,.15,.04,.217],
  [0,0,.087,.56,.158,.042,.13,0,.023],
  [0,.033,.109,.424,.307,.035,.092],
  [0,.237,.11,.114,.531,0,.008],
]
const rostovkaPops = ["Rostovka","Rostovka","Rostovka","Rostovka","Rostovka","Rostovka","Rostovka","Rostovka"]

const booSamples = ["BOO007","BOO008","BOO009","BOO001","BOO002","BOO003","BOO004","BOO005","BOO006"]
const booRows = [
  [0,.005,.152,.387,.129,.004,.323],
  [0,.004,.131,.371,.146,.013,.311,0,.024],
  [0,.018,.115,.362,.128,.023,.354],
  [0,.028,.103,.364,.142,0,.346,0,.017],
  [0,.016,.136,.366,.134,.012,.336],
  [0,.008,.158,.359,.134,.012,.311,0,.018],
  [0,.01,.136,.365,.126,.016,.347],
  [0,.005,.147,.388,.126,.005,.329],
  [0,0,.103,.324,.107,.01,.456],
]
const booStudy = "Bolshoy Oleni Ostrov this study"
const booPub = "Bolshoy Oleni Ostrov published"
const booPops = [booStudy,booStudy,booStudy,booPub,booPub,booPub,booPub,booPub,booPub]

const finlandSamples = ["JK1968","JK1970","JK2065","CHV001","CHV002"]
const finlandRows = [
  [0,.14,.129,.104,.405,0,.201,0,.021],
  [0,.131,.119,.16,.334,.016,.24],
  [.027,.279,.154,.041,.476,.007,0,0,.016],
  [0,.158,.154,.141,.343,0,.189,0,.015],
  [0,.14,.138,.131,.371,.006,.214],
]
const finlandPops = ["Finland Levanluhta","Finland Levanluhta","Finland Levanluhta B","Russia Chalmny Varre","Russia Chalmny Varre"]

const ancientSamples = ["MA1.SG","AG3 d","I1960","I5766","Sidelkino.SG","I0124","UOO004","UzOO77","UOO012","UOO015","PES001.SG","KAR001.SG","BER001.SG","I1733","I1763","I1819","I0001","BDB001","KO1.SG","Bichon.SG","I0707","I0708","I0709","ILK001","ILK003","NAU001.SG","NAU002.SG","NIK002.SG","MIL001.SG","MIL002.SG","TIM006.SG","I0939","I0938","I0937","I0942","I1020","I1057","I0983","I1007","I1017","I1028","I0944","I0945","I0946","RISE500.SG","RISE503.SG","RISE505.SG","I0422","I0430","I0358","kzb002.SG","kzb003.SG","mur003.SG","I6715","I10564","I10565","I12957","I12978","BOT14","BOT2016","GMGM1","L4964","L5209","RISE515.SG","RISE667.SG","RISE670.SG","KPT001","KPT002","KPT003","yak030.SG","N4a1.SG","N4b2.SG","yak021.SG","yak022.SG","yak024.SG","kra001.SG"]
const ancientRows = [
  [.14,0,.097,.631,.009,.057,0,.043,.012,.011],
  [0,0,.006,.902,.007,.003,0,.057,.025],
  [.006,0,.084,.768,.046,.052,.028,0,.016],
  [.011,0,.113,.744,.029,.006,.081,0,.016],
  [0,0,.303,.572,.096,0,0,.029],
  [0,0,.267,.55,.183],
  [0,0,.279,.535,.186],
  [0,0,.268,.629,.103],
  [0,0,.285,.642,.073],
  [0,0,.279,.64,.081],
  [0,0,.334,.528,.121,0,0,.017],
  [0,0,.295,.514,.156,0,0,.035],
  [0,0,.393,.459,.141,0,0,.007],
  [0,0,.447,.428,.125],
  [0,0,.407,.449,.144],
  [0,0,.447,.43,.123],
  [0,0,1],
  [0,0,1],
  [.006,0,.915,.05,0,0,0,.029],
  [0,0,.979,0,0,0,0,.021],
  [.085,.887,.012,.016],
  [.137,.817,.023,.023],
  [.066,.912,.017,.005],
  [.011,.673,.24,0,.049,0,0,.027],
  [0,.671,.198,0,.097,0,0,.034],
  [0,.197,.045,.057,.657,0,0,.044],
  [.024,.186,.108,.047,.605,0,0,.03],
  [0,.243,.07,.043,.602,0,0,.042],
  [0,.204,.082,.033,.643,0,0,.038],
  [.023,.132,.071,.075,.658,0,.006,.035],
  [0,.203,.083,.097,.595,0,0,.022],
  [.018,.196,.069,.05,.648,0,0,0,.019],
  [.032,.234,.113,.077,.526,0,.018],
  [.045,.209,.094,.054,.583,0,0,0,.015],
  [0,.246,.121,.042,.591],
  [.068,.097,.051,.263,.505,0,.016],
  [.066,.139,.075,.209,.493,0,0,0,.018],
  [.124,.013,.018,.352,.472,.021],
  [.079,0,.018,.687,.147,.033,.036],
  [.186,0,.019,.564,.192,.015,.024],
  [.061,0,.132,.604,.173,0,0,0,.03],
  [.047,.232,.091,.068,.541,0,0,0,.021],
  [0,.203,.074,.1,.615,0,0,0,.008],
  [0,.163,.064,.053,.699,.021],
  [.011,.161,.079,.085,.609,0,.011,.037,0,.007],
  [.03,.184,.077,.072,.608,0,0,.029],
  [.036,.152,.078,.121,.567,0,.007,.039],
  [.068,.13,.068,.12,.614],
  [.05,.199,.099,.085,.56,0,0,0,.007],
  [.046,.154,.09,.097,.597,0,0,0,.016],
  [.045,.152,.093,.161,.533,0,0,0,.016],
  [.068,.107,.075,.086,.635,.01,0,.012,0,.007],
  [.044,.15,.092,.077,.601,.008,0,.028],
  [.102,0,0,.18,.71,.008],
  [.115,.009,.007,.169,.688,0,.012],
  [.073,.006,.022,.174,.718,0,.007],
  [.166,0,0,.41,.333,.018,.063,0,.01],
  [.058,0,0,.356,.422,.032,.116,0,.016],
  [0,0,.042,.784,0,.031,.093,.05],
  [0,0,.07,.777,0,.041,.112],
  [0,0,0,.89,0,0,.061,.024,.025],
  [0,0,0,.876,0,.01,.096,0,.018],
  [0,0,0,.943,0,.012,.021,0,.024],
  [.007,0,0,.404,.207,.051,.295,.036],
  [0,0,.006,.445,.146,.027,.341,.027,0,.008],
  [0,.012,0,.424,.177,.017,.315,.03,.025],
  [0,0,0,.233,0,0,.767],
  [0,0,0,.246,.002,0,.752],
  [0,0,0,.239,0,0,.761],
  [0,0,0,.148,.004,0,.848],
  [0,0,0,.104,0,0,.794,.077,.015,.01],
  [0,0,0,.115,0,.018,.867],
  [0,0,0,.102,0,.01,.888],
  [0,0,0,.101,0,.007,.892],
  [0,0,0,.092,0,.009,.899],
  [0,0,0,.097,0,.011,.882,0,.01],
]
const yarFat = "Russia Yaroslavl Fatyanovo BA.SG"
const ivaFat = "Russia Ivanovo Fatyanovo BA.SG"
const mlba = "Russia MLBA Sintashta"
const sib = "Eastern Siberia LNBA"
const ancientPops = ["Russia MA1 HG.SG","Russia AfontovaGora3","WSHG","WSHG","EEHG","EEHG","EEHG","EEHG","EEHG","EEHG","EEHG","EEHG","EEHG","Ukraine Mesolithic","Ukraine Mesolithic","Ukraine Mesolithic","WHG","WHG","WHG","WHG","Turkey Neolithic","Turkey Neolithic","Turkey Neolithic","Ukraine Globular Amphora","Ukraine Globular Amphora",yarFat,yarFat,yarFat,ivaFat,ivaFat,ivaFat,mlba,mlba,mlba,mlba,mlba+" o2",mlba+" o2",mlba+" o1",mlba+" o1",mlba+" o1",mlba+" o3","Russia Petrovka","Russia Petrovka","Russia Petrovka","Russia Andronovo.SG","Russia Andronovo.SG","Russia Andronovo.SG","Russia Srubnaya","Russia Srubnaya","Russia Srubnaya","Russia Srubnaya Alakul.SG","Russia Srubnaya Alakul.SG","Russia Srubnaya Alakul.SG","Russia Afanasievo","Russia Afanasievo","Russia Afanasievo","Mongolia EBA Chemurchek 2","Mongolia EBA Chemurchek 2","Kazakhstan Botai Eneolithic","Kazakhstan Botai Eneolithic","Tarim EMBA1","Tarim EMBA1","Tarim EMBA1","Russia BA Okunevo.SG","Russia BA Okunevo.SG","Russia BA Okunevo.SG","Lake Baikal LNBA","Lake Baikal LNBA","Lake Baikal LNBA",sib,sib,sib,sib,sib,sib,sib]

const ancestryKeys = ["pale","orange","blue","sky","green","mint","red","maroon","purple","yellow"]
const ancestryColors: Record<string, string> = {
  pale: "#FFD479", orange: "#FF9300", blue: "#0433FF", sky: "#0096FF", green: "#3C9F46",
  mint: "#12FC91", red: "#FF2A00", maroon: "#941751", purple: "#9437FF", yellow: "#FFFB00",
}
const ancestryGroups = [
  { samples: rostovkaSamples, pops: rostovkaPops, rows: rostovkaRows },
  { samples: booSamples, pops: booPops, rows: booRows },
  { samples: finlandSamples, pops: finlandPops, rows: finlandRows },
  { samples: ancientSamples, pops: ancientPops, rows: ancientRows },
]
const ancestryTable: any[] = []
ancestryGroups.forEach((g, gi) => {
  g.samples.forEach((s, i) => {
    const row: any = { id: `${gi}-${i}`, sample: s, pop: g.pops[i] }
    ancestryKeys.forEach((k, ki) => { row[k] = g.rows[i][ki] ?? 0 })
    ancestryTable.push(row)
  })
  if (gi < ancestryGroups.length - 1) ancestryTable.push({ id: `gap-${gi}`, sample: "", pop: "" })
})
const ancestryById = new Map(ancestryTable.map((r) => [r.id, r]))

// ---- styles ----
const groupStyle: Record<string, { kind: string; color: string }> = {
  Rostovka: { kind: "square", color: "#FF33FF" },
  "Bolshoy Oleni Ostrov New": { kind: "square", color: "#00FFFF" },
  Enets: { kind: "ring", color: "#6B72B8" },
  Estonian: { kind: "ring", color: "#9BB26D" },
  Finnish: { kind: "ring", color: "#B5AE6D" },
  Hungarian: { kind: "ring", color: "#B9696B" },
  Karelian: { kind: "ring", color: "#FFFF80" },
  Ket: { kind: "ring", color: "#7FF76F" },
  Lithuanian: { kind: "ring", color: "#7FBBFF" },
  Mansi: { kind: "ring", color: "#6D95BF" },
  Mordovian: { kind: "ring", color: "#FFBF7F" },
  Nganasan: { kind: "ring", color: "#FF7F7F" },
  "Saami.WGA": { kind: "ring", color: "#808080" },
  Selkup: { kind: "ring", color: "#8F6FBF" },
  Udmurt: { kind: "ring", color: "#7FFFFF" },
  Veps: { kind: "ring", color: "#DFAFEF" },
  "Russia Mal'ta1": { kind: "left", color: "#000000" },
  "Afontova Gora 3": { kind: "right", color: "#000000" },
  WHG: { kind: "down", color: "#1133FF" },
  EEHG: { kind: "pent", color: "#B4D5E8" },
  WSHG: { kind: "hex", color: "#CF80FA" },
  "Ukraine Mesolithic": { kind: "pent", color: "#7A85FF" },
  "Anatolia N": { kind: "circle", color: "#FF9500" },
  "Ukraine Globular Amphora": { kind: "down", color: "#FF9500" },
  "Kazakhstan Eneolithic Botai": { kind: "right", color: "#93208F" },
  "Tarim EMBA1": { kind: "left", color: "#93208F" },
  "Eastern Siberia LNBA": { kind: "circle", color: "#EE3029" },
  "Baikal LNBA": { kind: "right", color: "#FF2F92" },
  "Bolshoy Oleni Ostrov published": { kind: "circle", color: "#00FFFF" },
  "Finland Levanluhta": { kind: "diamond", color: "#9933FF" },
  "Russia Chalmny Varre": { kind: "right", color: "#D580FF" },
  Fatyanovo: { kind: "down", color: "#8F8F00" },
  "Russia Afanasievo": { kind: "pent", color: "#0A8B4F" },
  "Sintashta MLBA": { kind: "up", color: "#5CB85C" },
  "KA5 Sintashta outliers": { kind: "pent", color: "#5CB85C" },
  "Russia Srubnaya": { kind: "right", color: "#8F8F00" },
  "Russia Srubnaya Alakul": { kind: "diamond", color: "#8F8F00" },
  "Russia BA Okunevo": { kind: "up", color: "#D4FF70" },
  "Russia Petrovka": { kind: "left", color: "#0A8B4F" },
  "Russia Andronovo": { kind: "up", color: "#964B00" },
  "Mongolia EBA Chemurchek": { kind: "down", color: "#964B00" },
}

const seriesA: [string, Pt[]][] = [
  ["Estonian", estonianA],["Finnish", finnishA],["Hungarian", hungarianA],["Karelian", karelianA],["Lithuanian", lithuanianA],["Mordovian", mordovianA],["Veps", vepsA],["Saami.WGA", saamiA],["Udmurt", udmurtA],["Mansi", mansiA],["Enets", enetsA],["Selkup", selkupA],["Ket", ketA],["Nganasan", nganasanA],
  ["Russia Mal'ta1", maltaA],["Afontova Gora 3", afontovaA],["WHG", whgA],["EEHG", eehgA],["WSHG", wshgA],["Ukraine Mesolithic", ukraineMesoA],["Anatolia N", anatoliaA],["Ukraine Globular Amphora", globularA],["Kazakhstan Eneolithic Botai", botaiA],["Tarim EMBA1", tarimA],["Eastern Siberia LNBA", easternSiberiaA],["Baikal LNBA", baikalA],["Bolshoy Oleni Ostrov published", bolshoyPubA],["Finland Levanluhta", finlandA],["Russia Chalmny Varre", chalmnyA],["Fatyanovo", fatyanovoA],["Russia Afanasievo", afanasievoA],["Sintashta MLBA", sintashtaA],["KA5 Sintashta outliers", ka5A],["Russia Srubnaya", srubnayaA],["Russia Srubnaya Alakul", alakulA],["Russia BA Okunevo", okunevoA],["Russia Petrovka", petrovkaA],["Russia Andronovo", andronovoA],["Mongolia EBA Chemurchek", chemurchekA],
  ["Bolshoy Oleni Ostrov New", bolshoyNewA],["Rostovka", rostovkaA],
]
const seriesB: [string, Pt[]][] = [
  ["Estonian", estonianB],["Finnish", finnishB],["Hungarian", hungarianB],["Karelian", karelianB],["Mordovian", mordovianB],["Veps", vepsB],["Saami.WGA", saamiB],["Udmurt", udmurtB],["Mansi", mansiB],["Enets", enetsB],["Selkup", selkupB],["Ket", ketB],["Nganasan", nganasanB],
  ["Russia Mal'ta1", maltaB],["Afontova Gora 3", afontovaB],["WHG", whgB],["EEHG", eehgB],["WSHG", wshgB],["Ukraine Mesolithic", ukraineMesoB],["Anatolia N", anatoliaB],["Kazakhstan Eneolithic Botai", botaiB],["Tarim EMBA1", tarimB],["Eastern Siberia LNBA", easternSiberiaB],["Baikal LNBA", baikalB],["Bolshoy Oleni Ostrov published", bolshoyPubB],["Finland Levanluhta", finlandB],["Russia Chalmny Varre", chalmnyB],["Fatyanovo", fatyanovoB],["Russia Afanasievo", afanasievoB],["Sintashta MLBA", sintashtaB],["KA5 Sintashta outliers", ka5B],["Russia Srubnaya", srubnayaB],["Russia Srubnaya Alakul", alakulB],["Russia BA Okunevo", okunevoB],["Russia Petrovka", petrovkaB],["Russia Andronovo", andronovoB],["Mongolia EBA Chemurchek", chemurchekB],
  ["Bolshoy Oleni Ostrov New", bolshoyNewB],["Rostovka", rostovkaB],
]

const legendUralic = ["Enets","Estonian","Finnish","Hungarian","Karelian","Ket","Lithuanian","Mansi","Mordovian","Nganasan","Saami.WGA","Selkup","Udmurt","Veps"]
const legendCol1 = ["Russia Mal'ta1","Afontova Gora 3","WHG","EEHG","WSHG","Ukraine Mesolithic","Anatolia N","Ukraine Globular Amphora","Kazakhstan Eneolithic Botai","Tarim EMBA1","Eastern Siberia LNBA","Baikal LNBA","Bolshoy Oleni Ostrov published","Finland Levanluhta","Russia Chalmny Varre"]
const legendCol2 = ["Fatyanovo","Russia Afanasievo","Sintashta MLBA","KA5 Sintashta outliers","Russia Srubnaya","Russia Srubnaya Alakul","Russia BA Okunevo","Russia Petrovka","Russia Andronovo","Mongolia EBA Chemurchek"]

const polys: Record<string, number[][]> = {
  up: [[0,-8],[9,7],[-9,7]],
  down: [[0,8],[9,-7],[-9,-7]],
  left: [[-7,0],[7,-8.5],[7,8.5]],
  right: [[7,0],[-7,-8.5],[-7,8.5]],
  diamond: [[0,-9],[9,0],[0,9],[-9,0]],
  pent: [[0,-8.5],[8.6,-2],[5.4,8],[-5.4,8],[-8.6,-2]],
  hex: [[-4.4,-8],[4.4,-8],[8.6,0],[4.4,8],[-4.4,8],[-8.6,0]],
}

function Marker({ kind, color, cx, cy }: any) {
  if (kind === "gray") return <circle cx={cx} cy={cy} r={8.2} fill="#CCCCCC" />
  if (kind === "circle") return <circle cx={cx} cy={cy} r={8.5} fill={color} />
  if (kind === "ring") return <circle cx={cx} cy={cy} r={6.9} fill="#fff" stroke={color} strokeWidth={2.4} />
  if (kind === "square") return <rect x={cx - 7.7} y={cy - 7.7} width={15.4} height={15.4} fill={color} stroke="#111" strokeWidth={2.6} />
  return <polygon points={polys[kind].map(([x, y]) => `${cx + x},${cy + y}`).join(" ")} fill={color} />
}

const toXY = (pts: Pt[]) => pts.map(([x, y]) => ({ x: x / 1000, y: y / 1000 }))
const xTicksPC = Array.from({ length: 56 }, (_, i) => (i - 25) / 1000)
const yTicksA = Array.from({ length: 73 }, (_, i) => (i - 19) / 1000)
const yTicksB = Array.from({ length: 81 }, (_, i) => (i - 25) / 1000)
const AXIS = "#333"

function XTick({ x, y, payload }: any) {
  const v = payload.value
  const major = Math.round(v * 1000) % 10 === 0
  const label = v === 0 || Math.abs(v) < 1e-9 ? "0" : (v < 0 ? "\u2212" : "") + Math.abs(v).toFixed(2)
  return (
    <g>
      <line x1={x} x2={x} y1={y} y2={y + (major ? 8 : 4)} stroke={AXIS} strokeWidth={1.2} />
      {major && <text x={x} y={y + 18} textAnchor="middle" dominantBaseline="central" fontSize={18.7} fontFamily={FONT} fill="#000">{label}</text>}
    </g>
  )
}

function YTick({ x, y, payload }: any) {
  const v = payload.value
  const major = Math.round(v * 1000) % 5 === 0
  const label = Math.abs(v) < 1e-9 ? "0" : (v < 0 ? "\u2212" : "") + Math.abs(v).toFixed(3)
  return (
    <g>
      <line x1={x} x2={x - (major ? 7 : 3.5)} y1={y} y2={y} stroke={AXIS} strokeWidth={1.2} />
      {major && <text x={x - 11} y={y} textAnchor="end" dominantBaseline="central" fontSize={18.7} fontFamily={FONT} fill="#000">{label}</text>}
    </g>
  )
}

// offset of the sample names from their squares
const rotLabelsA: Record<string, [string, number, number]> = {
  ROT002: ["middle", -4, 22], ROT017: ["start", 16, 0], ROT006: ["middle", -34, -44], ROT016: ["start", -16, 21], ROT011: ["start", 16, 0],
  ROT015: ["start", 17, 0], ROT013: ["end", -12, -16], ROT004: ["start", 13.5, 3], ROT003: ["end", -28, 0],
}
const rotLabelsB: Record<string, [string, number, number]> = {
  ROT002: ["start", -2, -30], ROT017: ["middle", -2, -21], ROT006: ["middle", 2, 19], ROT016: ["middle", -5, -22], ROT011: ["middle", -2, -22],
  ROT015: ["start", 17, -1], ROT013: ["middle", 6, 21], ROT004: ["end", -11, 7], ROT003: ["middle", 0, 29],
}
const clineNames: [string, number, number][] = [
  ["forest-tundra cline", 1.94, 34.06],
  ["steppe-forest cline", 1.75, 7.12],
  ["southern steppe cline", 3.54, -2.45],
]

function PCPanel({ left, width, yAxisWidth, marginRight, xDomain, yDomain, yTicks, gray, series, rostovka, rotLabels, clines }: any) {
  return (
    <div style={{ position: "absolute", left, top: 0 }}>
      <ScatterChart width={width} height={1000} margin={{ top: 53, right: marginRight, bottom: 7, left: 0 }}>
        <XAxis type="number" dataKey="x" domain={xDomain} ticks={xTicksPC} interval={0} height={60} tickSize={0} tickMargin={0} tick={XTick} stroke={AXIS} strokeWidth={1.5} />
        <YAxis type="number" dataKey="y" domain={yDomain} ticks={yTicks} interval={0} width={yAxisWidth} tickSize={0} tickMargin={0} tick={YTick} stroke={AXIS} strokeWidth={1.5} />
        <Scatter data={toXY(gray)} isAnimationActive={false} shape={(p: any) => <Marker kind="gray" cx={p.cx} cy={p.cy} />} />
        {series.map(([name, pts]: [string, Pt[]]) => (
          <Scatter key={name} name={name} data={toXY(pts)} isAnimationActive={false}
            shape={(p: any) => <Marker kind={groupStyle[name].kind} color={groupStyle[name].color} cx={p.cx} cy={p.cy} />} />
        ))}
        <Scatter data={toXY(rostovka).map((d, i) => ({ ...d, id: rostovkaIds[i] }))} isAnimationActive={false}
          shape={(p: any) => {
            const [anchor, dx, dy] = rotLabels[p.id ?? p.payload?.id]
            return <text x={p.cx + dx} y={p.cy + dy} textAnchor={anchor} dominantBaseline="central" fontSize={18.7} fontFamily={FONT}>{p.id ?? p.payload?.id}</text>
          }} />
        {clines && (
          <Scatter data={clines.map(([name, x, y]: any) => ({ x: x / 1000, y: y / 1000, name }))} isAnimationActive={false}
            shape={(p: any) => <text x={p.cx} y={p.cy} textAnchor="middle" dominantBaseline="central" fontSize={23.5} fontStyle="italic" fontFamily={FONT}>{p.payload?.name ?? p.name}</text>} />
        )}
      </ScatterChart>
    </div>
  )
}

function SampleTick({ x, y, payload }: any) {
  const row = ancestryById.get(payload.value)
  if (!row || !row.sample) return <g />
  return (
    <g>
      <line x1={x - 9.56} x2={x - 9.56} y1={y} y2={y - 8} stroke="#000" strokeWidth={1.3} />
      <line x1={x + 9.56} x2={x + 9.56} y1={y} y2={y - 8} stroke="#000" strokeWidth={1.3} />
      <text transform={`translate(${x},${y - 13}) rotate(90)`} textAnchor="end" dominantBaseline="central" fontSize={19.6} fontFamily={FONT} fill="#000">{row.sample}</text>
    </g>
  )
}
function PopTick({ x, y, payload }: any) {
  const row = ancestryById.get(payload.value)
  if (!row || !row.pop) return <g />
  return <text transform={`translate(${x},${y}) rotate(90)`} textAnchor="start" dominantBaseline="central" fontSize={21.6} fontFamily={FONT} fill="#000">{row.pop}</text>
}
function ShareTick({ x, y, payload }: any) {
  const v = payload.value
  const tenth = Math.round(v * 10)
  const major = tenth % 5 === 0
  const label = tenth === 0 ? "0" : v.toFixed(1)
  return (
    <g>
      <line x1={x} x2={x - (major ? 9 : 4)} y1={y} y2={y} stroke="#000" strokeWidth={1.3} />
      {major && <text x={x - 12} y={y} textAnchor="end" dominantBaseline="central" fontSize={19.6} fontFamily={FONT}>{label}</text>}
    </g>
  )
}

function LegendRow({ name, x, y, tx, size = 18.8 }: any) {
  const st = groupStyle[name]
  return (
    <g>
      <Marker kind={st.kind} color={st.color} cx={x} cy={y} />
      <text x={tx} y={y} dominantBaseline="central" fontSize={size} fontFamily={FONT}>{name}</text>
    </g>
  )
}

export default function App() {
  return (
    <div style={{ position: "relative", width: 2000, height: 1746, background: "#fff", overflow: "hidden" }}>
      <style>{`body{margin:0}`}</style>
      <PCPanel left={0} width={1030} yAxisWidth={88.6} marginRight={40} xDomain={[-0.02515, 0.03029]} yDomain={[-0.01979, 0.05391]}
        yTicks={yTicksA} gray={[...grayA, ...grayDenseA]} series={seriesA} rostovka={rostovkaA} rotLabels={rotLabelsA} clines={clineNames} />
      <PCPanel left={1000} width={1000} yAxisWidth={75} marginRight={13.4} xDomain={[-0.0252, 0.03087]} yDomain={[-0.02573, 0.05523]}
        yTicks={yTicksB} gray={[...grayB, ...grayDenseB]} series={seriesB} rostovka={rostovkaB} rotLabels={rotLabelsB} />
      <div style={{ position: "absolute", left: 0, top: 980 }}>
        <BarChart width={2000} height={766} data={ancestryTable} barCategoryGap="13%" margin={{ top: 37, right: 3.5, bottom: 54.3, left: 0 }}>
          <XAxis xAxisId="top" orientation="top" dataKey="id" type="category" height={100} interval={0} tickSize={0} tickMargin={0} tick={SampleTick} stroke="#000" strokeWidth={2.6} />
          <XAxis xAxisId="bottom" dataKey="id" type="category" height={300} interval={0} tickSize={0} tickMargin={16} tick={PopTick} axisLine={false} />
          <YAxis type="number" domain={[0, 1]} ticks={[0,.1,.2,.3,.4,.5,.6,.7,.8,.9,1]} interval={0} width={64.4} tickSize={0} tickMargin={0} tick={ShareTick} stroke="#000" strokeWidth={1.3} />
          {ancestryKeys.map((k) => (
            <Bar key={k} xAxisId="bottom" dataKey={k} stackId="a" fill={ancestryColors[k]} isAnimationActive={false} />
          ))}
        </BarChart>
      </div>
      <svg width={2000} height={1746} style={{ position: "absolute", left: 0, top: 0, pointerEvents: "none" }}>
        <text x={12} y={33.5} fontSize={36.5} fontWeight="bold" fontFamily={FONT}>a</text>
        <text x={1014} y={33.5} fontSize={36.5} fontWeight="bold" fontFamily={FONT}>b</text>
        <text x={12} y={1013} fontSize={40} fontWeight="bold" fontFamily={FONT}>c</text>
        <text x={105} y={26} dominantBaseline="central" fontSize={21.6} fontWeight="bold" fontFamily={FONT}>This study</text>
        <LegendRow name="Rostovka" x={115} y={57} tx={129} />
        <LegendRow name="Bolshoy Oleni Ostrov New" x={115} y={82} tx={129} />
        <text x={106} y={139} dominantBaseline="central" fontSize={21.6} fontWeight="bold" fontFamily={FONT}>Uralic speaking populations</text>
        {legendUralic.map((name, i) => <LegendRow key={name} name={name} x={115} y={164 + i * 19.45} tx={129} />)}
        <text x={1103} y={26} dominantBaseline="central" fontSize={21.6} fontWeight="bold" fontFamily={FONT}>Published ancient data</text>
        {legendCol1.map((name, i) => <LegendRow key={name} name={name} x={1112} y={57.7 + i * 21.88} tx={1125.5} />)}
        {legendCol2.map((name, i) => <LegendRow key={name} name={name} x={1413} y={57.7 + i * 21.88} tx={1426} />)}
        <text transform="translate(17,495) rotate(-90)" textAnchor="middle" dominantBaseline="central" fontSize={18.7} fontFamily={FONT}>PC3</text>
        <text transform="translate(1003,495) rotate(-90)" textAnchor="middle" dominantBaseline="central" fontSize={18.7} fontFamily={FONT}>PC2</text>
        <text x={542} y={973} textAnchor="middle" dominantBaseline="central" fontSize={18.7} fontFamily={FONT}>PC1</text>
        <text x={1529} y={973} textAnchor="middle" dominantBaseline="central" fontSize={18.7} fontFamily={FONT}>PC1</text>
        <text transform="translate(13,1255) rotate(90)" textAnchor="middle" dominantBaseline="central" fontSize={19.6} fontFamily={FONT}>% ancestry</text>
      </svg>
    </div>
  )
}
